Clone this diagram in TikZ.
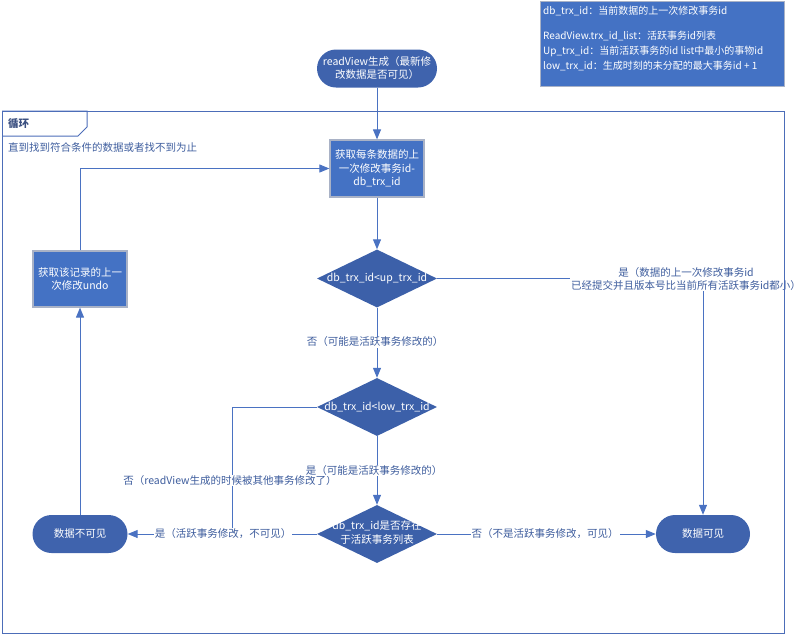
\documentclass[tikz,border=0pt]{standalone}
\usepackage{fontspec}
\setmainfont{Noto Sans CJK SC}
\usetikzlibrary{arrows.meta,shapes.geometric}

\definecolor{termblue}{HTML}{3F63AD}
\definecolor{boxblue}{HTML}{4472C4}
\definecolor{boxedge}{HTML}{A9B2C6}
\definecolor{diablue}{HTML}{3C60A9}
\definecolor{linkblue}{HTML}{4A72C2}
\definecolor{labelblue}{HTML}{3F5E9E}
\definecolor{frameblue}{HTML}{4C6DB8}
\definecolor{tagtext}{HTML}{3A4F80}

\begin{document}
\begin{tikzpicture}[x=1pt, y=-1pt,
  basefont/.style={font=\fontsize{10.5}{13}\selectfont},
  terminal/.style={basefont, rectangle, rounded corners=19pt, fill=termblue,
    text=white, minimum height=38pt, align=center, inner sep=0pt},
  procbox/.style={basefont, rectangle, fill=boxblue, draw=boxedge, line width=1.2pt,
    text=white, align=center, inner sep=0pt, minimum width=94pt},
  decision/.style={basefont, diamond, fill=diablue, text=white,
    minimum width=120pt, minimum height=58pt, inner sep=0pt},
  link/.style={draw=linkblue, line width=1pt},
  flow/.style={link, -{Triangle[length=10pt,width=8pt]}},
  edgelabel/.style={basefont, fill=white, text=labelblue, inner xsep=1pt,
    inner ysep=0.5pt, align=center},
  legendbox/.style={rectangle, fill=boxblue, draw=boxedge, line width=1pt,
    minimum width=244pt, minimum height=85pt},
  legendtext/.style={font=\fontsize{10}{15}\selectfont, text=white, align=left,
    inner sep=0pt}]

\useasboundingbox (0,0) rectangle (810,635);

% legend
\node[legendbox] (legend) at (662,43.5) {};
\node[legendtext, anchor=north west] (legendtext) at (543,6)
  {db\_trx\_id：当前数据的上一次修改事务id\\[10pt]
   ReadView.trx\_id\_list：活跃事务id列表\\
   Up\_trx\_id：当前活跃事务的id list中最小的事物id\\
   low\_trx\_id：生成时刻的未分配的最大事务id + 1};

% loop frame tag and note
\draw[frameblue, line width=1pt] (2,111) -- (87,111) -- (87,127) -- (78,136) -- (2,136);
\node[anchor=west, text=tagtext, font=\fontsize{10.5}{13}\selectfont\bfseries, inner sep=0pt]
  (looptag) at (8,124) {循环};
\node[anchor=west, text=labelblue, basefont, inner sep=0pt]
  (loopnote) at (8,148) {直到找到符合条件的数据或者找不到为止};

% flow nodes
\node[terminal, minimum width=120pt] (start) at (377,68.5)
  {readView生成（最新修\\改数据是否可见）};
\node[procbox, minimum height=57pt, font=\fontsize{10.5}{13.5}\selectfont] (fetch) at (377,168.5)
  {获取每条数据的上\\一次修改事务id-\\db\_trx\_id};
\node[decision] (d1) at (377,278.5) {\makebox[0pt]{db\_trx\_id<up\_trx\_id}};
\node[decision] (d2) at (377,407) {\makebox[0pt]{db\_trx\_id<low\_trx\_id}};
\node[decision] (d3) at (377,534)
  {\makebox[0pt]{\fontsize{10.5}{14}\selectfont\begin{tabular}{@{}c@{}}db\_trx\_id是否存在\\于活跃事务列表\end{tabular}}};
\node[terminal, minimum width=95pt] (hidden) at (80,534) {数据不可见};
\node[terminal, minimum width=94pt] (shown) at (703,534) {数据可见};
\node[procbox, minimum height=56pt] (undo) at (80,279)
  {获取该记录的上一\\次修改undo};
\coordinate (join) at (232,534);

% connectors
\draw[flow] (start) -- (fetch);
\draw[flow] (fetch) -- (d1);
\draw[flow] (d1.east) -| (shown.north);
\draw[flow] (d1) -- (d2);
\draw[link] (d2.west) -| (join);
\draw[flow] (d2) -- (d3);
\draw[flow] (d3) -- (hidden);
\draw[flow] (d3) -- (shown);
\draw[flow] (hidden) -- (undo);
\draw[flow] (undo.north) |- (fetch.west);

% connector labels
\node[edgelabel, font=\fontsize{10.5}{12.5}\selectfont] (lyes1) at (686,279)
  {是（数据的上一次修改事务id\\已经提交并且版本号比当前所有活跃事务id都小）};
\node[edgelabel] (lno1) at (375,342) {否（可能是活跃事务修改的）};
\node[edgelabel] (lno2) at (230,480) {否（readView生成的时候被其他事务修改了）};
\node[edgelabel] (lyes2) at (374,470) {是（可能是活跃事务修改的）};
\node[edgelabel] (lyes3) at (223,534) {是（活跃事务修改，不可见）};
\node[edgelabel] (lno3) at (545,534) {否（不是活跃事务修改，可见）};

% loop frame
\draw[frameblue, line width=1pt] (2,111) rectangle (784,633);
\end{tikzpicture}
\end{document}
